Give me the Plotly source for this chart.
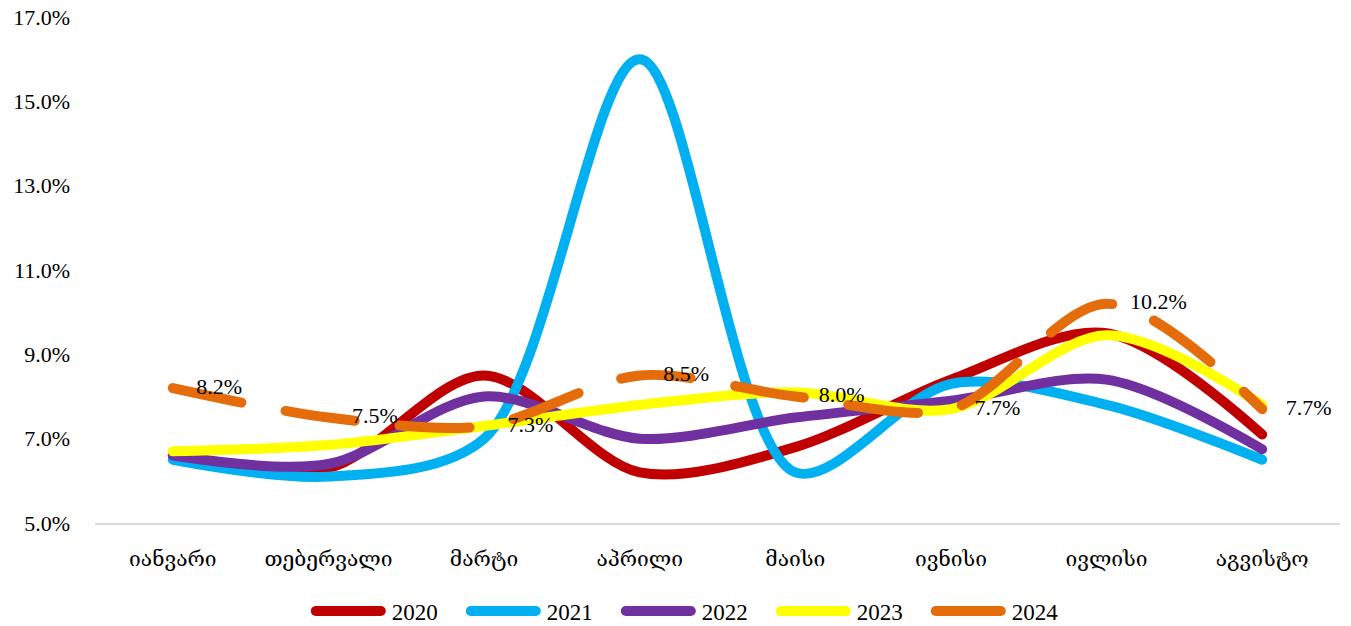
import plotly.graph_objects as go

months = ["იანვარი", "თებერვალი", "მარტი", "აპრილი", "მაისი", "ივნისი", "ივლისი", "აგვისტო"]
y2020 = [6.6, 6.3, 8.5, 6.2, 6.8, 8.4, 9.5, 7.1]
y2021 = [6.5, 6.1, 7.0, 16.0, 6.2, 8.3, 7.8, 6.5]
y2022 = [6.6, 6.4, 8.0, 7.0, 7.5, 7.9, 8.4, 6.75]
y2023 = [6.7, 6.85, 7.3, 7.8, 8.1, 7.7, 9.45, 7.8]
y2024 = [8.2, 7.5, 7.3, 8.5, 8.0, 7.7, 10.2, 7.7]
series = [("2020", y2020, "#C00000"), ("2021", y2021, "#00B0F0"),
          ("2022", y2022, "#7030A0"), ("2023", y2023, "#FFFF00"),
          ("2024", y2024, "#E46C0A")]
yticks = [5, 7, 9, 11, 13, 15, 17]

FONT = "Liberation Serif, DejaVu Serif, serif"
fig = go.Figure()
for name, vals, col in series:
    is24 = name == "2024"
    fig.add_trace(go.Scatter(
        x=months, y=vals, name=name, mode="lines",
        line=dict(color=col, width=10, shape="spline", smoothing=0.9,
                  dash="70px,45px" if is24 else "solid"),
    ))
# data labels for 2024
fig.add_trace(go.Scatter(
    x=months, y=y2024, mode="markers+text", showlegend=False, hoverinfo="skip",
    text=[f"{v:.1f}%" for v in y2024], textposition="middle right",
    textfont=dict(size=22, color="black", family=FONT),
    marker=dict(size=36, color="rgba(0,0,0,0)"), cliponaxis=False,
))

fig.update_layout(
    width=1351, height=626,
    margin=dict(l=95, r=11, t=17, b=103, autoexpand=False),
    paper_bgcolor="white", plot_bgcolor="white",
    font=dict(family=FONT, size=22, color="black"),
    showlegend=True,
    legend=dict(orientation="h", xref="container", yref="container",
                x=0.545, xanchor="center", y=0.024, yanchor="middle",
                font=dict(size=23, family=FONT), itemwidth=40,
                entrywidth=100, entrywidthmode="pixels", tracegroupgap=0),
    xaxis=dict(range=[-0.5, 7.5], showgrid=False, showline=True,
               linecolor="#D9D9D9", linewidth=2,
               ticks="", tickfont=dict(size=21, family=FONT), zeroline=False,
               ticklabelstandoff=16, automargin=False),
    yaxis=dict(range=[5, 17], tickvals=yticks,
               ticktext=[f"{v:.1f}%" for v in yticks], showgrid=False,
               zeroline=False, showline=False, ticks="", automargin=False,
               tickfont=dict(size=22, family=FONT), ticklabelstandoff=24),
)
post = """
document.body.style.margin='0';
var st=document.createElement('style');
st.textContent='.scatterlayer .js-line{stroke-linecap:round;stroke-linejoin:round;}'+
 '.legend .scrollbox{clip-path:none !important;}'+
 '.legend .legendtext{transform:translateX(-7px);}'+
 '.legendlines path{stroke-linecap:round;stroke-dasharray:none !important;d:path("M-33,0h65");}';
document.head.appendChild(st);
"""
fig.write_html("out.html", post_script=post, config={"displayModeBar": False})
